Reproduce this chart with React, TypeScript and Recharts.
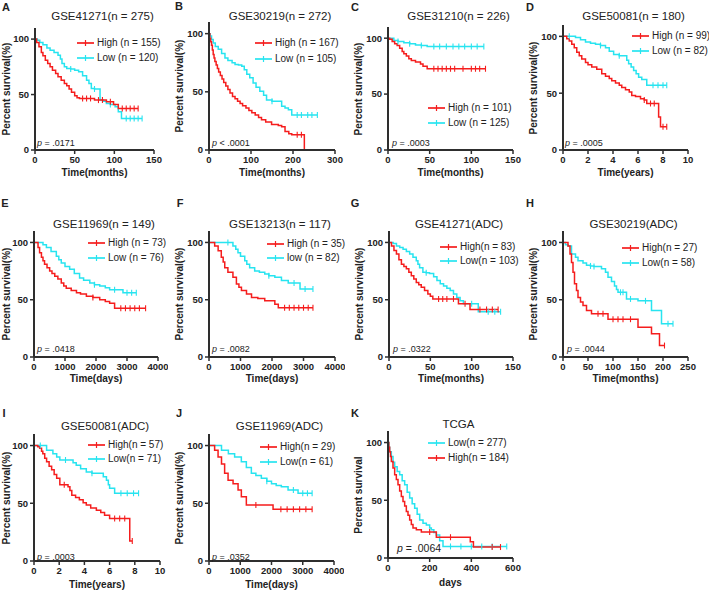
import React from "react";
import { LineChart, Line, XAxis, YAxis } from "recharts";

const RED = "#f51d1d";
const CYAN = "#27e4f0";
const AXIS = "#2e2e2e";
const FONT = "'Liberation Sans', Arial, sans-serif";

// [time, survival %, censored?]
type Pt = [number, number, number?];

const A_HIGH: Pt[] = [[0,100],[2,97],[5,93],[8,88],[10,85],[13,81],[16,78],[19,75],[22,72],[26,69],[29,66],[33,63],[37,60],[40,58],[43,55],[46,52],[50,49],[53,47],[56,46.5],[60,46.5,1],[65,46.5,1],[70,46.5,1],[75,45],[80,45,1],[85,45,1],[90,43.5],[95,43.5,1],[99,41],[105,37.5],[110,37.5,1],[115,37.5,1],[120,37.5,1],[125,37.5,1],[130,37.5,1]];
const A_LOW: Pt[] = [[0,100],[3,99],[6,97],[10,95],[15,92],[19,90],[24,88],[29,85.5],[32,82],[34,78],[37,75],[40,73.5],[45,73,1],[50,72],[55,70.5],[60,67],[65,63],[68,60],[71,55.5],[75,55,1],[82,45],[86,44],[90,42],[95,41,1],[101,39],[105,34.5],[109,28.5],[115,28.5,1],[120,28.5,1],[125,28.5,1],[130,28.5,1],[135,28.5,1]];

const B_HIGH: Pt[] = [[0,100],[2,96],[4,93],[6,90],[8,86],[10,82],[12,79],[14,76],[17,73],[20,70],[23,67],[27,64],[31,61],[35,58],[40,55],[45,52],[50,49],[56,46],[62,44],[68,42],[74,40],[80,38],[88,36],[95,34],[102,32],[110,30],[118,28],[125,26],[135,24],[149,22],[165,21],[173,20],[181,16],[190,14],[197,13],[210,13,1],[220,13,1],[227,0]];
const B_LOW: Pt[] = [[0,100],[3,98],[6,95],[10,92],[15,89],[22,86.5],[30,83],[38,79],[45,77],[55,75],[62,73.5],[70,73],[78,72],[84,69],[90,65],[97,62],[105,57.6],[112,54],[121,50.4],[130,47],[137,43],[150,42,1],[160,42],[173,37.5],[181,36],[189,34.6],[197,30],[210,30,1],[220,30,1],[235,30,1],[245,30,1],[258,30,1]];

const C_HIGH: Pt[] = [[0,100],[2,99],[5,97],[8,95],[11,93.5],[14,91],[17,88],[19,86],[22,84],[25,81.6],[28,80],[33,78.6],[39,77],[42,75],[47,72.7],[55,72.7,1],[60,72.7,1],[65,72.7,1],[70,72.7,1],[75,72.7,1],[80,72.7,1],[90,72.7,1],[100,72.7,1],[105,72.7,1],[110,72.7,1],[117,72.7,1]];
const C_LOW: Pt[] = [[0,100],[7,98],[12,97,1],[19,96],[26,95,1],[33,94],[40,93.5,1],[47,92.6],[55,92.6,1],[62,92.6,1],[70,92.6,1],[78,92.6,1],[85,92.6,1],[92,92.6,1],[100,92.6,1],[107,92.6,1],[115,92.6,1]];

const D_HIGH: Pt[] = [[0,100],[0.3,98],[0.5,96],[0.7,93],[0.9,90],[1.1,86],[1.3,83],[1.5,80],[1.8,77],[2,75],[2.3,73],[2.7,71],[3.1,67],[3.4,65],[3.7,63],[3.9,61],[4.2,59],[4.5,57],[4.7,55],[5,53],[5.3,51],[5.5,48],[5.8,47],[6.2,45],[6.5,44,1],[6.7,41],[7,41,1],[7.3,41,1],[7.65,29],[7.8,20.4],[8,20.4,1],[8.3,20.4,1]];
const D_LOW: Pt[] = [[0,100],[0.5,100,1],[1,99],[1.4,97],[1.8,95],[2.2,94],[2.6,93],[3,92,1],[3.4,90],[3.7,87],[4.05,84],[4.5,83,1],[5,83],[5.1,79],[5.25,76],[5.45,73],[5.65,70],[5.85,67],[6.05,64],[6.3,62],[6.7,57],[7.2,57,1],[7.6,57,1],[8,57,1],[8.3,57,1]];

const E_HIGH: Pt[] = [[0,100],[130,95.6],[180,91],[240,87],[290,84],[340,81],[420,78],[505,75],[580,73],[670,70.6],[770,68],[880,64.7],[960,62],[1040,60],[1200,58],[1370,56],[1500,55],[1690,53],[1900,52,1],[2120,50],[2300,48.5],[2440,47],[2600,42.6],[2800,42.6,1],[2950,42.6,1],[3100,42.6,1],[3250,42.6,1],[3400,42.6,1],[3600,42.6,1]];
const E_LOW: Pt[] = [[0,100],[290,98],[400,95.6],[550,92],[720,88],[800,85],[880,82],[1000,79],[1150,76.5],[1300,73],[1470,69],[1600,67],[1800,64.7],[1950,63,1],[2120,62],[2300,60.5],[2440,58.8],[2600,58.8,1],[2870,56],[3000,56,1],[3150,56,1],[3300,56,1]];

const F_HIGH: Pt[] = [[0,100],[180,97],[290,92.8],[390,87],[450,83],[500,78],[600,74],[760,69.6],[870,63.8],[950,61],[1030,58],[1190,55],[1350,52],[1550,51],[1770,49],[2090,46],[2200,43],[2400,43,1],[2550,43,1],[2700,43,1],[2850,43,1],[3000,43,1],[3150,43,1],[3300,43,1]];
const F_LOW: Pt[] = [[0,100],[600,100,1],[760,97],[850,94],[920,91],[1000,88],[1135,84],[1200,81],[1290,78],[1450,75],[1600,74],[1770,72.5],[1900,71,1],[2090,69.6],[2300,66.7],[2515,64.6],[2700,64.6,1],[2890,59.4],[3050,59.4,1],[3300,59.4,1]];

const G_HIGH: Pt[] = [[0,100],[3,97],[6,93],[9,90],[12,85],[15,81],[18,79],[21,77],[24,74],[27,71],[30,68],[33,65],[36,63],[39,61],[43,58],[47,55],[50,53],[53,50.7],[60,50.7,1],[65,50.7,1],[70,50.7,1],[78,50.7,1],[84,46.4],[92,46.4,1],[98,41.5],[110,41.5,1],[118,41.5,1],[125,41.5,1],[132,41.5,1]];
const G_LOW: Pt[] = [[0,100],[5,99],[9,97],[13,95.5],[17,94],[21,92],[25,90],[29,87],[33,84],[35,81],[37,78],[41,74],[45,73.5,1],[49,73],[54,70],[58,66.7],[62,64],[66,62],[70,60],[74,58],[78,55],[82,52],[86,49],[90,46.4],[100,46.4,1],[108,39.5],[120,39.5,1],[128,39.5,1],[135,39.5,1]];

const H_HIGH: Pt[] = [[0,100],[10,97],[14,90],[17,82.6],[20,74],[23,64],[27,58],[30,52],[35,48],[40,45],[47,40.6],[57,37.7],[70,37.7,1],[80,37.7,1],[90,33],[100,33,1],[110,33,1],[120,33,1],[135,33,1],[150,26],[177,20.3],[193,10],[203,10,1]];
const H_LOW: Pt[] = [[0,100],[5,98],[10,97],[17,90],[25,87],[30,84],[40,82],[47,80],[55,79.5,1],[62,79,1],[77,77],[85,74],[90,69.6],[97,66],[103,62],[107,59],[110,56.5],[115,56.5,1],[120,56.5,1],[127,50.7],[135,50.7,1],[150,49],[165,49,1],[177,40.6],[197,29],[210,29,1],[220,29,1]];

const I_HIGH: Pt[] = [[0,100],[0.3,99],[0.45,97.7],[0.6,95],[0.7,93],[0.85,89],[1,86],[1.2,82],[1.4,79],[1.6,75],[1.8,71.6],[2.05,66],[2.4,66,1],[2.7,64.3],[2.85,61],[3,57],[3.3,55],[3.6,53],[3.9,50.5],[4.15,48.4],[4.5,46],[4.95,44],[5.3,42],[5.6,39.7],[6,36.8],[6.4,36.8,1],[6.8,36.8,1],[7.2,36.8,1],[7.6,17.4],[7.8,17.4,1]];
const I_LOW: Pt[] = [[0,100],[0.5,100,1],[1,96],[1.5,93],[1.8,90],[2.05,87.5],[2.5,87.5,1],[3.1,85],[3.35,83],[3.7,80],[4.15,77],[4.6,76,1],[5.5,73],[5.75,70],[5.9,66],[6,63],[6.4,58.6],[6.9,58.6,1],[7.4,58.6,1],[7.9,58.6,1],[8.3,58.6,1]];

const J_HIGH: Pt[] = [[0,100],[180,96],[290,90],[400,84],[500,76],[610,70],[770,67],[930,61.4],[1035,55.6],[1195,48.4],[1500,48.4,1],[2050,44.9],[2300,44.9,1],[2500,44.9,1],[2700,44.9,1],[2900,44.9,1],[3100,44.9,1],[3300,44.9,1]];
const J_LOW: Pt[] = [[0,100],[400,96],[620,93],[820,90],[1035,86],[1195,81],[1355,76],[1500,74],[1675,71.6],[1850,69,1],[2000,67],[2150,65.5],[2315,64.3],[2530,61.4],[2700,61.4,1],[2850,58.6],[3000,58.6,1],[3150,58.6,1],[3300,58.6,1]];

const K_HIGH: Pt[] = [[0,100],[4,96],[8,92],[12,88],[16,83.6],[24,78],[32,72],[40,68],[48,63.4],[56,58],[64,53.3],[72,49],[80,45],[88,40.3],[96,37],[104,33],[112,29],[120,26],[136,24.5],[160,22.5],[200,22.5,1],[232,18],[300,18,1],[395,14],[410,9.5],[500,9.5,1],[540,9.5,1]];
const K_LOW: Pt[] = [[0,100],[4,96],[8,92],[16,88],[24,83],[32,79],[44,75],[56,72],[68,67],[80,63.4],[92,57],[104,52],[116,47],[128,43],[140,38],[152,33],[168,30],[184,28.5],[200,26],[208,24.5],[220,22],[232,20],[248,15],[264,10],[300,10,1],[350,10,1],[400,10,1],[450,10,1],[500,10,1],[570,10,1]];

const TITLES = ["GSE41271(n = 275)", "GSE30219(n = 272)", "GSE31210(n = 226)", "GSE50081(n = 180)", "GSE11969(n = 149)", "GSE13213(n =  117)", "GSE41271(ADC)", "GSE30219(ADC)", "GSE50081(ADC)", "GSE11969(ADC)", "TCGA"];
const HIGH_LABELS = ["High (n = 155)", "High (n = 167)", "High (n = 101)", "High (n = 99)", "High (n = 73)", "High (n = 35)", "High(n = 83)", "High(n = 27)", "High(n = 57)", "High(n = 29)", "High(n = 184)"];
const LOW_LABELS = ["Low (n = 120)", "Low (n = 105)", "Low (n = 125)", "Low (n = 82)", "Low (n = 76)", "low (n = 82)", "Low(n = 103)", "Low(n = 58)", "Low(n = 71)", "Low(n = 61)", "Low(n = 277)"];
const P_VALUES = ["= .0171", "< .0001", "= .0003", "= .0005", "= .0418", "= .0082", "= .0322", "= .0044", "= .0003", "= .0352", "= .0064"];

const MONTH_150 = [0, 50, 100, 150];
const MONTH_300 = [0, 100, 200, 300];
const MONTH_250 = [0, 50, 100, 150, 200, 250];
const YEAR_10 = [0, 2, 4, 6, 8, 10];
const DAY_4000 = [0, 1000, 2000, 3000, 4000];
const DAY_600 = [0, 200, 400, 600];

type Panel = {
  letter: string;
  letterPos: [number, number];
  box: [number, number, number, number]; // left, top(110), width, bottom(0)
  xTicks: number[];
  xLabel: string;
  yLabel: string;
  high: Pt[];
  low: Pt[];
  legend: [number, number, number];
  lowFirst?: boolean;
  pPos: [number, number, number];
  titleY: number;
  xLabelY: number;
};

const PANELS: Panel[] = [
  { letter: "A", letterPos: [6, 7], box: [35, 28, 119, 150], xTicks: MONTH_150, xLabel: "Time(months)", yLabel: "Percent survival(%)", high: A_HIGH, low: A_LOW, legend: [77, 43, 58], pPos: [37, 143, 9], titleY: 17, xLabelY: 173 },
  { letter: "B", letterPos: [179, 6], box: [209, 22, 126, 150], xTicks: MONTH_300, xLabel: "Time(months)", yLabel: "Percent survival(%)", high: B_HIGH, low: B_LOW, legend: [255, 43, 59], pPos: [212, 143, 9], titleY: 17, xLabelY: 173 },
  { letter: "C", letterPos: [355, 7], box: [388, 27, 125, 150], xTicks: MONTH_150, xLabel: "Time(months)", yLabel: "Percent survival(%)", high: C_HIGH, low: C_LOW, legend: [428, 108, 123], pPos: [392, 143, 9], titleY: 17, xLabelY: 173 },
  { letter: "D", letterPos: [530, 7], box: [563, 25, 125, 150], xTicks: YEAR_10, xLabel: "Time(years)", yLabel: "Percent survival(%)", high: D_HIGH, low: D_LOW, legend: [632, 36, 51], pPos: [565, 143, 9], titleY: 17, xLabelY: 173 },
  { letter: "E", letterPos: [5, 203], box: [34, 231, 124, 357], xTicks: DAY_4000, xLabel: "Time(days)", yLabel: "Percent survival(%)", high: E_HIGH, low: E_LOW, legend: [88, 243, 258], pPos: [37, 349, 9], titleY: 225, xLabelY: 379 },
  { letter: "F", letterPos: [180, 203], box: [209, 231, 126, 357], xTicks: DAY_4000, xLabel: "Time(days)", yLabel: "Percent survival(%)", high: F_HIGH, low: F_LOW, legend: [267, 244, 258], pPos: [212, 349, 9], titleY: 225, xLabelY: 379 },
  { letter: "G", letterPos: [355, 203], box: [389, 231, 124, 357], xTicks: MONTH_150, xLabel: "Time(months)", yLabel: "Percent survival(%)", high: G_HIGH, low: G_LOW, legend: [440, 247, 261], pPos: [393, 349, 9], titleY: 225, xLabelY: 379 },
  { letter: "H", letterPos: [530, 203], box: [563, 231, 125, 357], xTicks: MONTH_250, xLabel: "Time(months)", yLabel: "Percent survival(%)", high: H_HIGH, low: H_LOW, legend: [622, 248, 263], pPos: [567, 349, 9], titleY: 225, xLabelY: 379 },
  { letter: "I", letterPos: [4, 413], box: [34, 434, 126, 561], xTicks: YEAR_10, xLabel: "Time(years)", yLabel: "Percent survival(%)", high: I_HIGH, low: I_LOW, legend: [88, 445, 459], pPos: [37, 557, 9], titleY: 427, xLabelY: 585 },
  { letter: "J", letterPos: [179, 413], box: [209, 434, 125, 561], xTicks: DAY_4000, xLabel: "Time(days)", yLabel: "Percent survival(%)", high: J_HIGH, low: J_LOW, legend: [260, 447, 462], pPos: [212, 557, 9], titleY: 427, xLabelY: 585 },
  { letter: "K", letterPos: [355, 413], box: [388, 431, 125, 558], xTicks: DAY_600, xLabel: "days", yLabel: "Percent survival", high: K_HIGH, low: K_LOW, legend: [428, 443, 458], lowFirst: true, pPos: [397, 548, 10.5], titleY: 425, xLabelY: 583 },
];

const toRows = (pts: Pt[]) => pts.map(([t, s, c]) => ({ t, s, c: c ? 1 : 0 }));

const censorDot = (color: string) => (props: any) => {
  const { cx, cy, payload, index } = props;
  if (!payload || !payload.c) return <g key={`n${index}`} />;
  return <line key={`c${index}`} x1={cx} x2={cx} y1={cy - 3} y2={cy + 3} stroke={color} strokeWidth={1.1} />;
};

const text = (extra: React.CSSProperties): React.CSSProperties => ({
  position: "absolute",
  fontFamily: FONT,
  color: "#222",
  whiteSpace: "nowrap",
  lineHeight: 1,
  ...extra,
});

function LegendRow({ x, y, color, label }: { x: number; y: number; color: string; label: string }) {
  return (
    <>
      <svg style={{ position: "absolute", left: x, top: y - 4 }} width={18} height={8}>
        <line x1={0} x2={17} y1={4} y2={4} stroke={color} strokeWidth={1.7} />
        <line x1={8.5} x2={8.5} y1={1} y2={7} stroke={color} strokeWidth={1.2} />
      </svg>
      <div style={text({ left: x + 20, top: y, fontSize: 10, transform: "translateY(-50%)" })}>{label}</div>
    </>
  );
}

function KMPanel({ p, i }: { p: Panel; i: number }) {
  const [left, top, w, bottom] = p.box;
  const h = bottom - top;
  const xMax = p.xTicks[p.xTicks.length - 1];
  const cx = left + w / 2;
  const rows = [
    { color: RED, label: HIGH_LABELS[i] },
    { color: CYAN, label: LOW_LABELS[i] },
  ];
  if (p.lowFirst) rows.reverse();
  const tick = { fontSize: 9.5, fontWeight: 700, fill: "#222", fontFamily: FONT };
  return (
    <>
      <div style={{ position: "absolute", left: left - 40, top: top - 10 }}>
        <LineChart width={w + 50} height={h + 40} margin={{ top: 10, right: 10, bottom: 0, left: 0 }}>
          <XAxis
            dataKey="t"
            type="number"
            domain={[0, xMax]}
            ticks={p.xTicks}
            allowDataOverflow
            height={30}
            tick={tick}
            tickSize={4}
            axisLine={{ stroke: AXIS, strokeWidth: 2 }}
            tickLine={{ stroke: AXIS, strokeWidth: 1.5 }}
          />
          <YAxis
            type="number"
            domain={[0, 110]}
            ticks={[0, 50, 100]}
            width={40}
            tick={tick}
            tickSize={4}
            axisLine={{ stroke: AXIS, strokeWidth: 2 }}
            tickLine={{ stroke: AXIS, strokeWidth: 1.5 }}
          />
          <Line data={toRows(p.low)} dataKey="s" type="stepAfter" stroke={CYAN} strokeWidth={1.5} dot={censorDot(CYAN)} activeDot={false} isAnimationActive={false} />
          <Line data={toRows(p.high)} dataKey="s" type="stepAfter" stroke={RED} strokeWidth={1.5} dot={censorDot(RED)} activeDot={false} isAnimationActive={false} />
        </LineChart>
      </div>
      <div style={text({ left: p.letterPos[0], top: p.letterPos[1], fontSize: 11, fontWeight: 700, transform: "translate(-50%,-50%)" })}>{p.letter}</div>
      <div style={text({ left: cx + 8, top: p.titleY, fontSize: 11.5, transform: "translate(-50%,-50%)" })}>{TITLES[i]}</div>
      <div style={text({ left: cx, top: p.xLabelY, fontSize: 10, fontWeight: 700, transform: "translate(-50%,-50%)" })}>{p.xLabel}</div>
      <div style={text({ left: Math.max(left - 29, 7), top: (top + bottom) / 2, fontSize: 10, fontWeight: 700, transform: "translate(-50%,-50%) rotate(-90deg)" })}>{p.yLabel}</div>
      <div style={text({ left: p.pPos[0], top: p.pPos[1], fontSize: p.pPos[2], transform: "translateY(-50%)" })}>
        <i>p</i> {P_VALUES[i]}
      </div>
      <LegendRow x={p.legend[0]} y={p.legend[1]} color={rows[0].color} label={rows[0].label} />
      <LegendRow x={p.legend[0]} y={p.legend[2]} color={rows[1].color} label={rows[1].label} />
    </>
  );
}

export default function App() {
  return (
    <div style={{ position: "absolute", left: 0, top: 0, width: 709, height: 591, background: "#fff", overflow: "hidden" }}>
      {PANELS.map((p, i) => (
        <KMPanel key={p.letter} p={p} i={i} />
      ))}
    </div>
  );
}
